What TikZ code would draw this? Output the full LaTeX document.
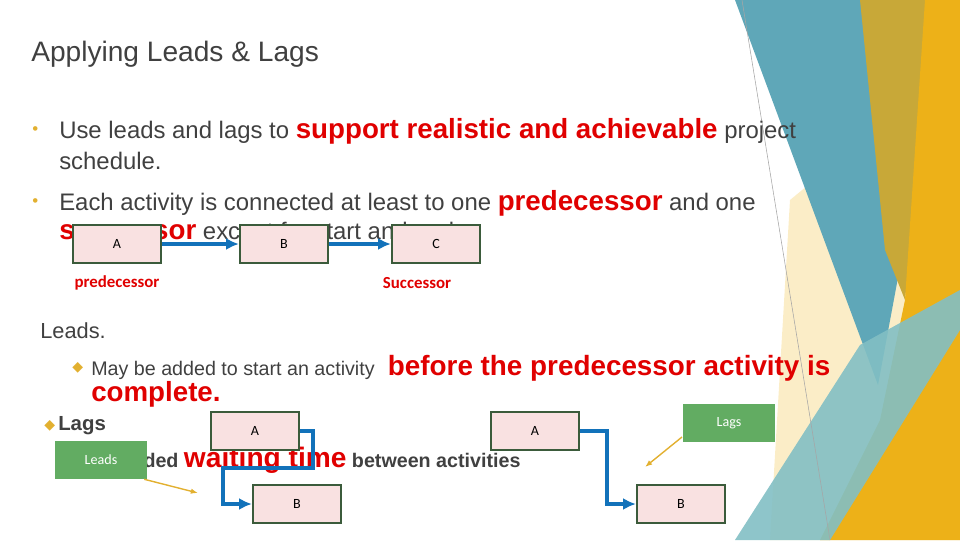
\documentclass[tikz,border=0pt]{standalone}
\usepackage{fontspec}
\setmainfont{Liberation Sans}
\newfontfamily\calfont{Carlito}
\newfontfamily\symfont{DejaVu Sans}
\usetikzlibrary{arrows.meta, positioning}
\definecolor{txtgrey}{HTML}{404040}
\definecolor{hotred}{HTML}{E00000}
\definecolor{boxfill}{HTML}{F9E1E1}
\definecolor{boxline}{HTML}{3B5B3B}
\definecolor{linkblue}{HTML}{1272BA}
\definecolor{tagfill}{HTML}{62AC62}
\definecolor{goldline}{HTML}{E2B030}
\definecolor{teal}{HTML}{5FA7B8}
\definecolor{olivegold}{HTML}{C8A838}
\definecolor{gold}{HTML}{EDB118}
\definecolor{paleyellow}{HTML}{F8DC90}
\definecolor{lightteal}{HTML}{82BFC4}
\begin{document}
\begin{tikzpicture}[x=0.025cm, y=-0.025cm,
    every node/.style={inner sep=0pt, anchor=west},
    activity/.style={draw=boxline, line width=1.6pt, fill=boxfill, anchor=center,
      minimum width=2.2cm, minimum height=0.95cm, font=\calfont},
    tag/.style={fill=tagfill, text=white, anchor=center, minimum width=2.3cm,
      minimum height=0.95cm, font=\calfont},
    link/.style={draw=linkblue, line width=2.6pt, -{Latex[length=3.2mm, width=3mm]}},
    pointer/.style={draw=goldline, line width=1pt, -{Latex[length=1.8mm]}},
    body/.style={text=txtgrey, font=\fontsize{17}{20}\selectfont},
    hot/.style={text=hotred, font=\fontsize{19.7}{22}\selectfont\bfseries},
    ]
    \useasboundingbox (0,0) rectangle (960,540);

    % Background bands
    \fill[paleyellow, opacity=0.5] (790,200) -- (960,60) -- (960,540) -- (770,540) -- cycle;
    \fill[teal] (735,0) -- (865,0) -- (905,240) -- (878,385) -- cycle;
    \fill[olivegold] (860,0) -- (935,0) -- (905,300) -- (885,250) -- cycle;
    \fill[gold] (925,0) -- (960,0) -- (960,540) -- (820,540) -- (880,420) -- (905,300) -- cycle;
    \fill[lightteal, opacity=0.9] (735,540) -- (860,345) -- (960,290) -- (960,330) -- (830,540) -- cycle;
    \draw[gray!70, line width=0.4pt] (742,0) -- (830,540);

    % Title and text
    \node[text=txtgrey, font=\fontsize{20}{24}\selectfont] (title) at (31,54) {Applying Leads \& Lags};
    \node[text=goldline, font=\large] (b1) at (32,131) {•};
    \node[body] (l1) at (59,131) {Use leads and lags to
      \textcolor{hotred}{\fontsize{19.7}{22}\selectfont\bfseries support realistic and achievable} project};
    \node[body] (l2) at (59,161) {schedule.};
    \node[text=goldline, font=\large] (b2) at (32,203) {•};
    \node[body] (l3) at (59,203) {Each activity is connected at least to one
      \textcolor{hotred}{\fontsize{19.7}{22}\selectfont\bfseries predecessor} and one};
    \node[body] (l4) at (59,233) {\textcolor{hotred}{\fontsize{19.7}{22}\selectfont\bfseries successor} except for start and end.};

    \node[text=txtgrey, font=\fontsize{15.5}{18}\selectfont] (leads) at (40,331) {Leads.};
    \node[text=goldline, font=\symfont\normalsize] (d1) at (72,368) {◆};
    \node[text=txtgrey, font=\fontsize{14}{17}\selectfont] (l5) at (91,368) {May be added to start an activity
      \textcolor{hotred}{\fontsize{19.8}{22}\selectfont\bfseries\ before the predecessor activity is}};
    \node[hot] (l6) at (91,394) {complete.};
    \node[text=goldline, font=\symfont\normalsize] (d2) at (44,426) {◆};
    \node[text=txtgrey, font=\fontsize{14.5}{17}\selectfont\bfseries] (lags) at (58,426) {Lags};
    \node[text=txtgrey, font=\fontsize{14}{17}\selectfont\bfseries] (l7) at (117,460) {Added
      \textcolor{hotred}{\fontsize{20}{22}\selectfont waiting time} between activities};

    % Chain A B C
    \node[activity] (a) at (117,244) {A};
    \node[activity] (b) at (284,244) {B};
    \node[activity] (c) at (436,244) {C};
    \node[text=hotred, font=\calfont\large\bfseries, anchor=center] (pred) at (117,283) {predecessor};
    \node[text=hotred, font=\calfont\large\bfseries, anchor=center] (succ) at (417,283) {Successor};
    \draw[link] (a) -- (b);
    \draw[link] (b) -- (c);

    % Leads example
    \node[activity] (leada) at (255,431) {A};
    \node[activity] (leadb) at (297,504) {B};
    \draw[link] (leada.east) -- (313,431) -- (313,468) -- (223,468) -- (223,504) -- (leadb.west);
    \node[tag] (leadtag) at (101,460) {Leads};
    \coordinate (leadtip) at (198,493);
    \draw[pointer] (leadtag.south east) ++(-3,0) coordinate (leadfrom) -- (leadtip);

    % Lags example
    \node[activity] (laga) at (535,431) {A};
    \node[activity] (lagb) at (681,504) {B};
    \draw[link] (laga.east) -- (607,431) -- (607,504) -- (lagb.west);
    \node[tag] (lagtag) at (729,423) {Lags};
    \coordinate (lagtip) at (645,467);
    \draw[pointer] (682,437) coordinate (lagfrom) -- (lagtip);
  \end{tikzpicture}
\end{document}
